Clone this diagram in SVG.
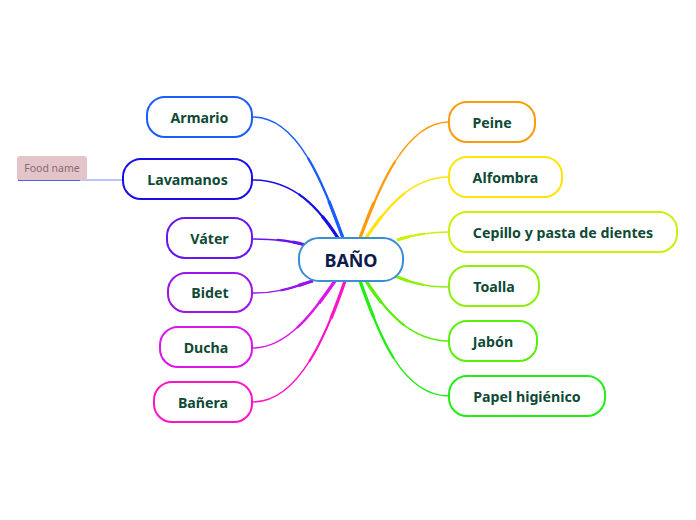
<svg xmlns="http://www.w3.org/2000/svg" width="696" height="520" viewBox="0 0 696 520">
<style>
.n rect{fill:#fff;stroke-width:2}
.n text{font-family:"Noto Sans","Open Sans",sans-serif;font-weight:bold;font-size:14.2px;fill:#0f4a36;text-anchor:middle;dominant-baseline:central}
.c path{fill:none;stroke-linecap:butt}
.t1{stroke-width:1.4}
.t2{stroke-width:2.2;stroke-dasharray:0 45 55}
.t3{stroke-width:3.2;stroke-dasharray:0 75 25}
</style>
<rect width="696" height="520" fill="#fff"/>
<g id="connectors" class="c">
<g stroke="#1a5cff"><path class="t1" pathLength="100" d="M253,117 C300,117 325,190 343,238"/><path class="t2" pathLength="100" d="M253,117 C300,117 325,190 343,238"/><path class="t3" pathLength="100" d="M253,117 C300,117 325,190 343,238"/></g>
<g stroke="#1a0fe6"><path class="t1" pathLength="100" d="M253,180 C295,180 320,210 338,238"/><path class="t2" pathLength="100" d="M253,180 C295,180 320,210 338,238"/><path class="t3" pathLength="100" d="M253,180 C295,180 320,210 338,238"/></g>
<g stroke="#6a14ee"><path class="t1" pathLength="100" d="M253,239 C280,239 295,242 305,245"/><path class="t2" pathLength="100" d="M253,239 C280,239 295,242 305,245"/><path class="t3" pathLength="100" d="M253,239 C280,239 295,242 305,245"/></g>
<g stroke="#9a14f0"><path class="t1" pathLength="100" d="M253,293 C285,293 300,284 313,281"/><path class="t2" pathLength="100" d="M253,293 C285,293 300,284 313,281"/><path class="t3" pathLength="100" d="M253,293 C285,293 300,284 313,281"/></g>
<g stroke="#dd14ee"><path class="t1" pathLength="100" d="M253,348 C290,348 318,305 335,281"/><path class="t2" pathLength="100" d="M253,348 C290,348 318,305 335,281"/><path class="t3" pathLength="100" d="M253,348 C290,348 318,305 335,281"/></g>
<g stroke="#ff14c8"><path class="t1" pathLength="100" d="M253,402 C300,402 328,330 345,281"/><path class="t2" pathLength="100" d="M253,402 C300,402 328,330 345,281"/><path class="t3" pathLength="100" d="M253,402 C300,402 328,330 345,281"/></g>
<g stroke="#ff9a0a"><path class="t1" pathLength="100" d="M449,122 C405,122 378,190 360,238"/><path class="t2" pathLength="100" d="M449,122 C405,122 378,190 360,238"/><path class="t3" pathLength="100" d="M449,122 C405,122 378,190 360,238"/></g>
<g stroke="#ffe40a"><path class="t1" pathLength="100" d="M449,177 C410,177 385,210 366,238"/><path class="t2" pathLength="100" d="M449,177 C410,177 385,210 366,238"/><path class="t3" pathLength="100" d="M449,177 C410,177 385,210 366,238"/></g>
<g stroke="#ccf00a"><path class="t1" pathLength="100" d="M449,232 C425,232 410,236 397,240"/><path class="t2" pathLength="100" d="M449,232 C425,232 410,236 397,240"/><path class="t3" pathLength="100" d="M449,232 C425,232 410,236 397,240"/></g>
<g stroke="#8cf00a"><path class="t1" pathLength="100" d="M449,287 C420,287 405,280 395,276"/><path class="t2" pathLength="100" d="M449,287 C420,287 405,280 395,276"/><path class="t3" pathLength="100" d="M449,287 C420,287 405,280 395,276"/></g>
<g stroke="#5aee0a"><path class="t1" pathLength="100" d="M449,341 C410,341 385,310 366,281"/><path class="t2" pathLength="100" d="M449,341 C410,341 385,310 366,281"/><path class="t3" pathLength="100" d="M449,341 C410,341 385,310 366,281"/></g>
<g stroke="#22ee14"><path class="t1" pathLength="100" d="M449,396 C400,396 378,330 360,281"/><path class="t2" pathLength="100" d="M449,396 C400,396 378,330 360,281"/><path class="t3" pathLength="100" d="M449,396 C400,396 378,330 360,281"/></g>
<path d="M80,180 L123,180" stroke="#7a86ff" stroke-width="1"/>
<path d="M18,180 L80,180" stroke="#1a2ae6" stroke-width="1.5"/>
</g>
<g id="food-name">
<rect x="17" y="156" width="70" height="24" rx="3" fill="#e2c4c9"/>
<text x="52" y="168" font-family="'Noto Sans','Open Sans',sans-serif" font-size="10.5" fill="#8a6a72" text-anchor="middle" dominant-baseline="central">Food name</text>
</g>
<g id="center" class="n"><rect x="299" y="238" width="104" height="43" rx="20" stroke="#3a8ed4"/><text x="351" y="260" style="font-size:18px;fill:#0d1a4a">BAÑO</text></g>
<g id="armario" class="n"><rect x="147" y="97" width="105" height="40" rx="18" stroke="#1a5cff"/><text x="199.5" y="117">Armario</text></g>
<g id="lavamanos" class="n"><rect x="123" y="159" width="129" height="40" rx="18" stroke="#1a0fe6"/><text x="187.5" y="179">Lavamanos</text></g>
<g id="vater" class="n"><rect x="167" y="218" width="85" height="40" rx="18" stroke="#6a14ee"/><text x="209.5" y="238">Váter</text></g>
<g id="bidet" class="n"><rect x="168" y="273" width="84" height="39" rx="18" stroke="#9a14f0"/><text x="210" y="292.5">Bidet</text></g>
<g id="ducha" class="n"><rect x="160" y="327" width="92" height="40" rx="18" stroke="#dd14ee"/><text x="206" y="347">Ducha</text></g>
<g id="banera" class="n"><rect x="154" y="382" width="98" height="40" rx="18" stroke="#ff14c8"/><text x="203" y="402">Bañera</text></g>
<g id="peine" class="n"><rect x="449" y="102" width="86" height="40" rx="18" stroke="#ff9a0a"/><text x="492" y="122">Peine</text></g>
<g id="alfombra" class="n"><rect x="449" y="157" width="113" height="40" rx="18" stroke="#ffe40a"/><text x="505.5" y="177">Alfombra</text></g>
<g id="cepillo" class="n"><rect x="449" y="212" width="228" height="40" rx="18" stroke="#ccf00a"/><text x="563" y="232">Cepillo y pasta de dientes</text></g>
<g id="toalla" class="n"><rect x="449" y="266" width="90" height="40" rx="18" stroke="#8cf00a"/><text x="494" y="286">Toalla</text></g>
<g id="jabon" class="n"><rect x="449" y="321" width="88" height="40" rx="18" stroke="#5aee0a"/><text x="493" y="341">Jabón</text></g>
<g id="papel" class="n"><rect x="449" y="376" width="156" height="40" rx="18" stroke="#22ee14"/><text x="527" y="396">Papel higiénico</text></g>
</svg>
